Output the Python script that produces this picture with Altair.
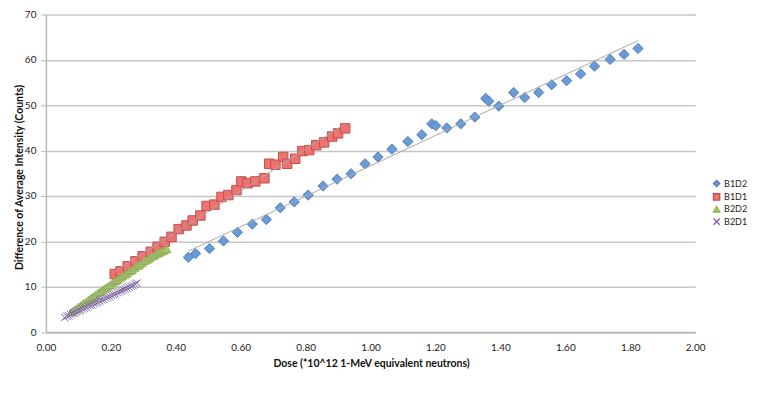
import altair as alt
import pandas as pd

series_names = ["B1D2", "B1D1", "B2D2", "B2D1"]

b1d2_dose = [0.439, 0.461, 0.504, 0.547, 0.590, 0.636, 0.679, 0.722, 0.765, 0.808,
             0.854, 0.897, 0.940, 0.983, 1.023, 1.066, 1.115, 1.158, 1.189, 1.201,
             1.235, 1.278, 1.321, 1.355, 1.364, 1.395, 1.441, 1.475, 1.518, 1.558,
             1.604, 1.647, 1.690, 1.738, 1.781, 1.824]
b1d2_counts = [16.5, 17.3, 18.4, 20.1, 22.0, 23.8, 24.8, 27.4, 28.7, 30.2,
               32.2, 33.7, 34.9, 37.1, 38.6, 40.3, 42.0, 43.5, 45.9, 45.5,
               45.0, 45.9, 47.4, 51.5, 50.9, 49.8, 52.8, 51.7, 52.8, 54.5,
               55.4, 56.9, 58.6, 60.1, 61.2, 62.5]

b1d1_dose = [0.212, 0.230, 0.252, 0.276, 0.298, 0.323, 0.344, 0.366, 0.387, 0.409,
             0.433, 0.452, 0.476, 0.495, 0.519, 0.541, 0.562, 0.587, 0.602, 0.621,
             0.645, 0.673, 0.688, 0.707, 0.731, 0.743, 0.768, 0.790, 0.811, 0.833,
             0.857, 0.882, 0.900, 0.922]
b1d1_counts = [12.8, 13.4, 14.5, 15.6, 16.7, 17.7, 18.8, 19.9, 21.0, 22.7,
               23.5, 24.6, 25.7, 27.8, 28.1, 29.8, 30.2, 31.3, 33.2, 32.8,
               33.2, 33.9, 37.1, 36.9, 38.6, 37.1, 38.2, 39.9, 40.1, 41.2,
               41.8, 43.1, 43.8, 44.9]

b2d2_dose = [0.078, 0.086, 0.093, 0.101, 0.108, 0.116, 0.123, 0.131, 0.139, 0.146,
             0.153, 0.161, 0.168, 0.176, 0.184, 0.191, 0.198, 0.206, 0.214, 0.221,
             0.229, 0.236, 0.244, 0.251, 0.259, 0.266, 0.274, 0.282, 0.289, 0.296,
             0.304, 0.312, 0.319, 0.327, 0.334, 0.342, 0.349, 0.357, 0.364, 0.372]
b2d2_counts = [4.4, 4.8, 5.1, 5.6, 5.9, 6.4, 6.6, 7.1, 7.5, 7.8,
               8.2, 8.7, 8.9, 9.4, 9.8, 10.1, 10.4, 10.9, 11.3, 11.5,
               12.0, 12.3, 12.7, 13.0, 13.5, 13.7, 14.2, 14.6, 14.9, 15.2,
               15.7, 16.0, 16.3, 16.7, 16.9, 17.3, 17.5, 17.8, 18.0, 18.3]

b2d1_dose = [0.058, 0.064, 0.070, 0.076, 0.082, 0.088, 0.094, 0.100, 0.106, 0.112,
             0.118, 0.124, 0.130, 0.136, 0.142, 0.148, 0.154, 0.160, 0.166, 0.172,
             0.178, 0.184, 0.190, 0.196, 0.202, 0.208, 0.214, 0.220, 0.226, 0.232,
             0.238, 0.244, 0.250, 0.256, 0.262, 0.268, 0.274, 0.280]
b2d1_counts = [3.2, 3.5, 3.6, 3.9, 4.1, 4.2, 4.5, 4.7, 4.8, 5.1,
               5.3, 5.4, 5.7, 5.9, 6.0, 6.3, 6.5, 6.6, 6.9, 7.1,
               7.2, 7.5, 7.7, 7.8, 8.1, 8.3, 8.4, 8.7, 8.9, 9.1,
               9.3, 9.5, 9.7, 9.9, 10.1, 10.3, 10.6, 10.8]

x_ticks = [0.0, 0.2, 0.4, 0.6, 0.8, 1.0, 1.2, 1.4, 1.6, 1.8, 2.0]
y_ticks = [0, 10, 20, 30, 40, 50, 60, 70]

rows = []
for name, xs, ys in [("B1D2", b1d2_dose, b1d2_counts),
                     ("B1D1", b1d1_dose, b1d1_counts),
                     ("B2D2", b2d2_dose, b2d2_counts),
                     ("B2D1", b2d1_dose, b2d1_counts)]:
    for xv, yv in zip(xs, ys):
        rows.append({"series": name, "dose": xv, "counts": yv})
df = pd.DataFrame(rows)

fill_colors = ["#6a9bd6", "#ee7370", "#a6ca68", "#8e73b6"]
stroke_colors = ["#4f81bd", "#c0504d", "#8db04f", "#7a5ea6"]
shapes = ["diamond", "square", "triangle-up", "M-1,-1L1,1M-1,1L1,-1"]
sizes = [105, 90, 70, 55]

font = "Lato"

x_enc = alt.X("dose:Q", scale=alt.Scale(domain=[0, 2], nice=False),
              axis=alt.Axis(values=x_ticks, format=".2f", title="Dose (*10^12 1-MeV equivalent neutrons)",
                            grid=False, ticks=False, labelPadding=10, labelFlush=False,
                            domainColor="#b8b8b8", domainWidth=1.5,
                            titleX=326, titleY=31, titleBaseline="middle", titleAlign="center"))
y_enc = alt.Y("counts:Q", scale=alt.Scale(domain=[0, 70], nice=False),
              axis=alt.Axis(values=y_ticks, format="d", title="Difference of Average Intensity (Counts)",
                            grid=True, gridColor="#c6c6c6", gridWidth=1.5, tickSize=5, tickColor="#b8b8b8",
                            labelPadding=5, labelFlush=False, domainColor="#b8b8b8", domainWidth=1.5,
                            titleX=-26, titleY=163, titleAngle=-90, titleBaseline="middle", titleAlign="center"))

legend = alt.Legend(title=None, orient="none", legendX=668, legendY=165,
                    labelFontSize=9, labelFont=font, symbolSize=40, rowPadding=0.4,
                    labelOffset=3, symbolStrokeWidth=1.3)

fill_enc = alt.Fill("series:N", scale=alt.Scale(domain=series_names, range=fill_colors), legend=legend)
stroke_enc = alt.Stroke("series:N", scale=alt.Scale(domain=series_names, range=stroke_colors), legend=legend)
shape_enc = alt.Shape("series:N", scale=alt.Scale(domain=series_names, range=shapes), legend=legend)

layers = []
for name, sz in zip(series_names, sizes):
    layers.append(
        alt.Chart(df).transform_filter(alt.datum.series == name)
        .mark_point(filled=True, opacity=1, strokeWidth=1, size=sz)
        .encode(x=x_enc, y=y_enc, fill=fill_enc, stroke=stroke_enc, shape=shape_enc)
    )

trend = alt.Chart(df).transform_regression(
    "dose", "counts", groupby=["series"]
).mark_line(color="#a8a8a8", strokeWidth=1).encode(
    x="dose:Q", y="counts:Q", detail="series:N"
)

chart = alt.layer(*layers, trend).properties(
    width=651, height=318.5,
    autosize=alt.AutoSizeParams(type="none"),
    padding={"left": 38, "top": 6, "right": 60, "bottom": 40},
).configure_view(stroke=None).configure_axis(
    labelFont=font, labelFontSize=10, labelColor="#222",
    titleFont=font, titleFontSize=10.5, titleFontWeight="bold", titleColor="#111",
).configure_legend(padding=0, labelColor="#222")

chart.save("out.html", embed_options={"renderer": "svg", "actions": False})
